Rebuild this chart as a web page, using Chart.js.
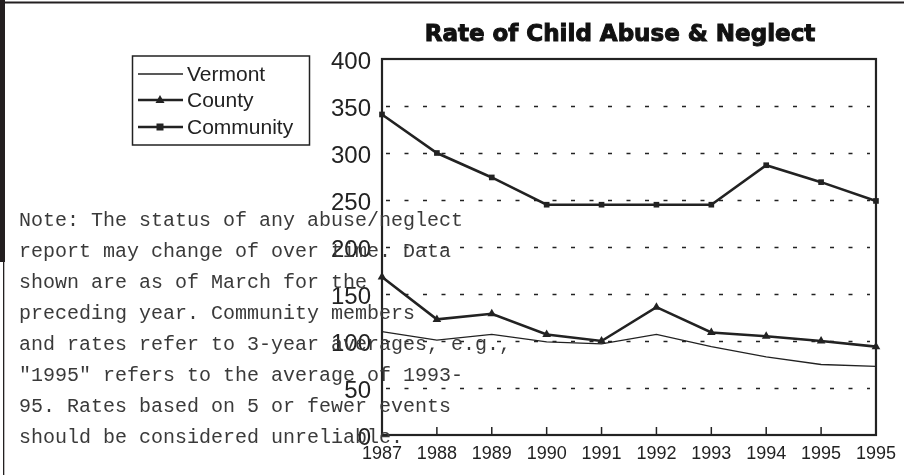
<!DOCTYPE html>
<html><head><meta charset="utf-8">
<script src="https://cdn.jsdelivr.net/npm/chart.js@4/dist/chart.umd.min.js"></script>
<style>html,body{margin:0;padding:0;background:#fff;overflow:hidden}#wrap{position:relative;width:904px;height:475px}</style>
</head><body><div id="wrap"><canvas id="c" width="904" height="475"></canvas></div>
<script>
const categories = ['1987','1988','1989','1990','1991','1992','1993','1994','1995','1995'];
const vermont   = [110,101,107,99,97,107,94,83,75,73];
const county    = [168,123,129,107,100,136,109,105,100,94];
const community = [341,300,274,245,245,245,245,287,269,249];
const yTicks = [0,50,100,150,200,250,300,350,400];
const seriesNames = ['Vermont','County','Community'];
const titleText = 'Rate of Child Abuse & Neglect';
const noteLines = [
  'Note: The status of any abuse/neglect',
  'report may change of over time. Data',
  'shown are as of March for the',
  'preceding year. Community members',
  'and rates refer to 3-year averages, e.g.,',
  '"1995" refers to the average of 1993-',
  '95. Rates based on 5 or fewer events',
  'should be considered unreliable.'
];

const INK = '#222';

const decor = {
  id: 'decor',
  beforeDraw(chart) {
    const ctx = chart.ctx;
    ctx.save();
    ctx.fillStyle = '#fff';
    ctx.fillRect(0, 0, chart.width, chart.height);
    ctx.fillStyle = '#231f20';
    ctx.fillRect(0, 0, 5, 262);
    ctx.fillRect(4, 1.5, chart.width - 4, 2);
    ctx.fillRect(3, 262, 1.3, chart.height - 262);
    ctx.restore();
  },
  beforeDatasetsDraw(chart) {
    const ctx = chart.ctx, a = chart.chartArea, ys = chart.scales.y, xs = chart.scales.x;
    ctx.save();
    ctx.strokeStyle = INK;
    ctx.lineWidth = 1.5;
    ctx.setLineDash([4, 14.5]);
    yTicks.forEach(v => {
      if (v === 0 || v === 400) return;
      const y = Math.round(ys.getPixelForValue(v)) + 0.5;
      ctx.beginPath();
      ctx.moveTo(a.left + 4, y);
      ctx.lineTo(a.right - 6, y);
      ctx.stroke();
    });
    ctx.setLineDash([]);
    ctx.lineWidth = 1.5;
    categories.forEach((c, i) => {
      const x = xs.getPixelForValue(i);
      ctx.beginPath();
      ctx.moveTo(x, a.bottom);
      ctx.lineTo(x, a.bottom - 8);
      ctx.stroke();
    });
    ctx.lineWidth = 2.2;
    ctx.strokeRect(a.left, a.top, a.right - a.left, a.bottom - a.top);
    ctx.restore();
  },
  afterDraw(chart) {
    const ctx = chart.ctx;
    ctx.save();
    // title
    ctx.font = 'bold 23px "DejaVu Sans", sans-serif';
    ctx.fillStyle = '#111';
    ctx.strokeStyle = '#111';
    ctx.lineWidth = 1.0;
    ctx.textAlign = 'center';
    ctx.textBaseline = 'middle';
    ctx.fillText(titleText, 620, 35);
    ctx.strokeText(titleText, 620, 35);
    // legend
    ctx.lineWidth = 1.5;
    ctx.strokeStyle = INK;
    ctx.strokeRect(132.5, 56, 177, 89);
    const rows = [74, 100, 127];
    chart.data.datasets.forEach((ds, i) => {
      const y = rows[i];
      ctx.strokeStyle = INK;
      ctx.fillStyle = INK;
      ctx.lineWidth = ds.borderWidth;
      ctx.beginPath();
      ctx.moveTo(138, y);
      ctx.lineTo(183, y);
      ctx.stroke();
      const cx = 160;
      if (ds.pointStyle === 'triangle') {
        ctx.beginPath();
        ctx.moveTo(cx, y - 5);
        ctx.lineTo(cx + 4.5, y + 3);
        ctx.lineTo(cx - 4.5, y + 3);
        ctx.closePath();
        ctx.fill();
      } else if (ds.pointStyle === 'rect') {
        ctx.fillRect(cx - 3.5, y - 3.5, 7, 7);
      }
      ctx.font = '21px "Liberation Sans", Arial, sans-serif';
      ctx.textAlign = 'left';
      ctx.textBaseline = 'middle';
      ctx.fillStyle = INK;
      ctx.fillText(ds.label, 187, y + 1);
    });
    // note
    ctx.font = '20px "Liberation Mono", "Courier New", monospace';
    ctx.fillStyle = '#3a3a3a';
    ctx.textAlign = 'left';
    ctx.textBaseline = 'middle';
    noteLines.forEach((t, i) => ctx.fillText(t, 19, 220.5 + i * 31.1));
    ctx.restore();
  }
};

new Chart(document.getElementById('c'), {
  type: 'line',
  data: {
    labels: categories,
    datasets: [
      { label: seriesNames[0], data: vermont, borderColor: INK, borderWidth: 1.3, pointRadius: 0, pointStyle: false, tension: 0 },
      { label: seriesNames[1], data: county, borderColor: INK, backgroundColor: INK, borderWidth: 2.6, pointStyle: 'triangle', pointRadius: 5, pointBorderWidth: 0, tension: 0 },
      { label: seriesNames[2], data: community, borderColor: INK, backgroundColor: INK, borderWidth: 2.6, pointStyle: 'rect', pointRadius: 4, pointBorderWidth: 0, tension: 0 }
    ]
  },
  options: {
    responsive: false,
    animation: false,
    events: [],
    layout: { padding: { left: 0, top: 59, right: 25, bottom: 0 } },
    plugins: { legend: { display: false }, title: { display: false }, tooltip: { enabled: false } },
    scales: {
      x: {
        type: 'category',
        offset: false,
        grid: { display: false, drawTicks: false },
        border: { display: false },
        ticks: { color: INK, font: { family: '"Liberation Sans", Arial, sans-serif', size: 18 }, padding: 8, autoSkip: false, maxRotation: 0 },
        afterFit(s) { s.height = 40; }
      },
      y: {
        min: 0, max: 400,
        grid: { display: false, drawTicks: false },
        border: { display: false },
        ticks: { stepSize: 50, color: INK, font: { family: '"Liberation Sans", Arial, sans-serif', size: 24 }, padding: 11, labelOffset: 3 },
        afterFit(s) { s.width = 382; }
      }
    }
  },
  plugins: [decor]
});
</script>
</body></html>
